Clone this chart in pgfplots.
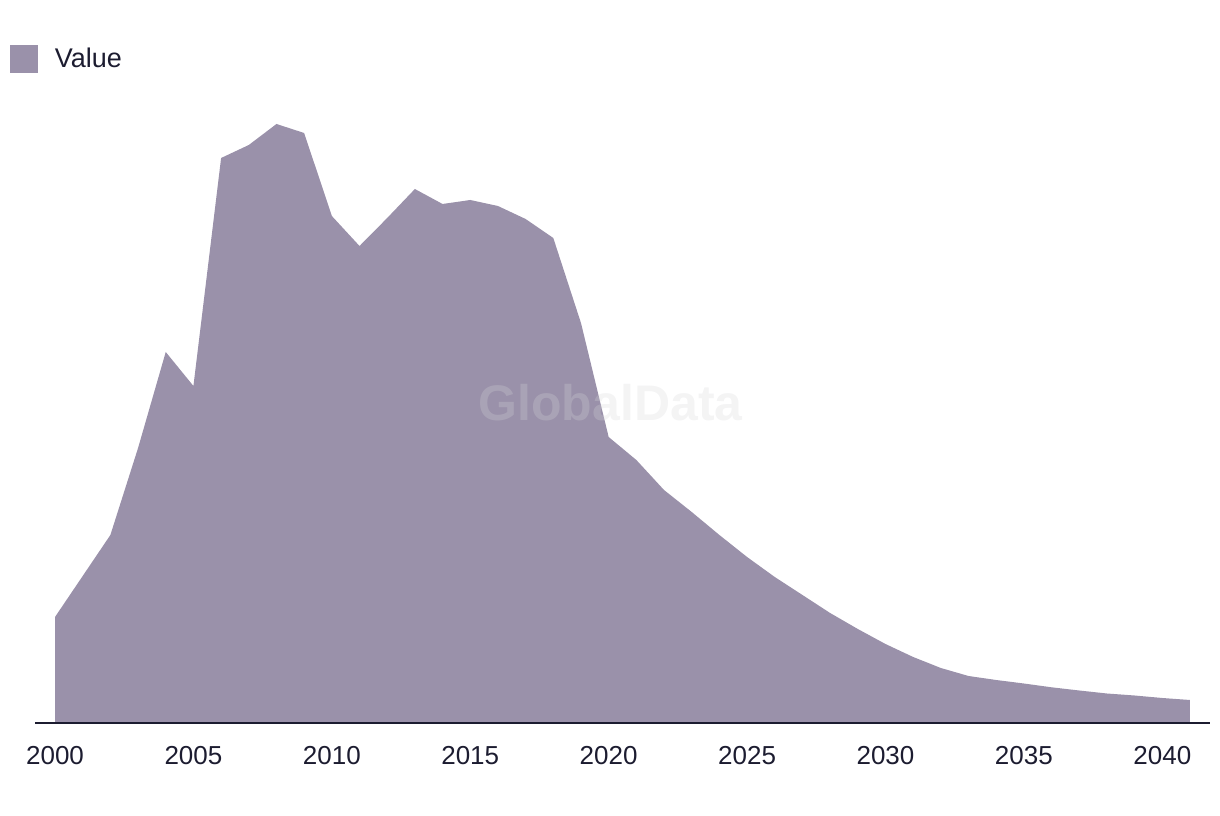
\documentclass[border=0pt]{standalone}
\usepackage{pgfplots}
\pgfplotsset{compat=1.18}
\usepackage{fontspec}
\setmainfont{Liberation Sans}
\definecolor{gdfill}{HTML}{9A91AA}
\definecolor{gdtext}{HTML}{1C1C30}
\definecolor{gdmark}{RGB}{213,213,216}

\begin{document}
\begin{tikzpicture}
	\useasboundingbox (0,0) rectangle (610bp,408bp);
	\begin{axis}[
			scale only axis,
			at={(17.5bp,46.5bp)}, anchor=south west,
			width=587.5bp, height=311.5bp,
			xmin=1999.277, xmax=2041.723,
			ymin=0, ymax=623,
			axis x line=bottom, axis y line=none,
			x axis line style={-, draw=gdtext, line width=0.8bp},
			axis on top,
			xtick={2000,2005,2010,2015,2020,2025,2030,2035,2040},
			xticklabels={2000,2005,2010,2015,2020,2025,2030,2035,2040},
			major tick length=0pt,
			xticklabel style={anchor=north, inner sep=0pt, yshift=-11.5bp,
				font=\fontsize{13bp}{15bp}\selectfont, text=gdtext},
			ytick=\empty,
			legend style={at={(axis description cs:-0.0213,1.065)}, anchor=west,
				draw=none, fill=none, inner sep=0pt, outer sep=0pt,
				column sep=8.5bp,
				nodes={inner sep=0pt, text=gdtext},
				font=\fontsize{13.5bp}{16bp}\selectfont},
			legend cell align=left,
			legend image code/.code={\fill[gdfill] (0bp,-7bp) rectangle (14bp,7bp);},
		]
		\addplot[fill=gdfill, draw=none] coordinates {
				(2000,106) (2001,147) (2002,188) (2003,275) (2004,371)
				(2005,337) (2006,565) (2007,578) (2008,599) (2009,590)
				(2010,507) (2011,477) (2012,505) (2013,534) (2014,519)
				(2015,523) (2016,517) (2017,504) (2018,485) (2019,400)
				(2020,286) (2021,263) (2022,233) (2023,211) (2024,188)
				(2025,166) (2026,146) (2027,128) (2028,110) (2029,94)
				(2030,79) (2031,66) (2032,55) (2033,47) (2034,43)
				(2035,39.5) (2036,35.7) (2037,32.5) (2038,29.5) (2039,27.5)
				(2040,25) (2041,23)
			} \closedcycle;
		\addlegendentry{Value}

		\node[text=gdmark, text opacity=0.27, font=\bfseries\fontsize{25bp}{27bp}\selectfont]
			at (rel axis cs:0.4898,0.5136) {GlobalData};
	\end{axis}
\end{tikzpicture}
\end{document}
